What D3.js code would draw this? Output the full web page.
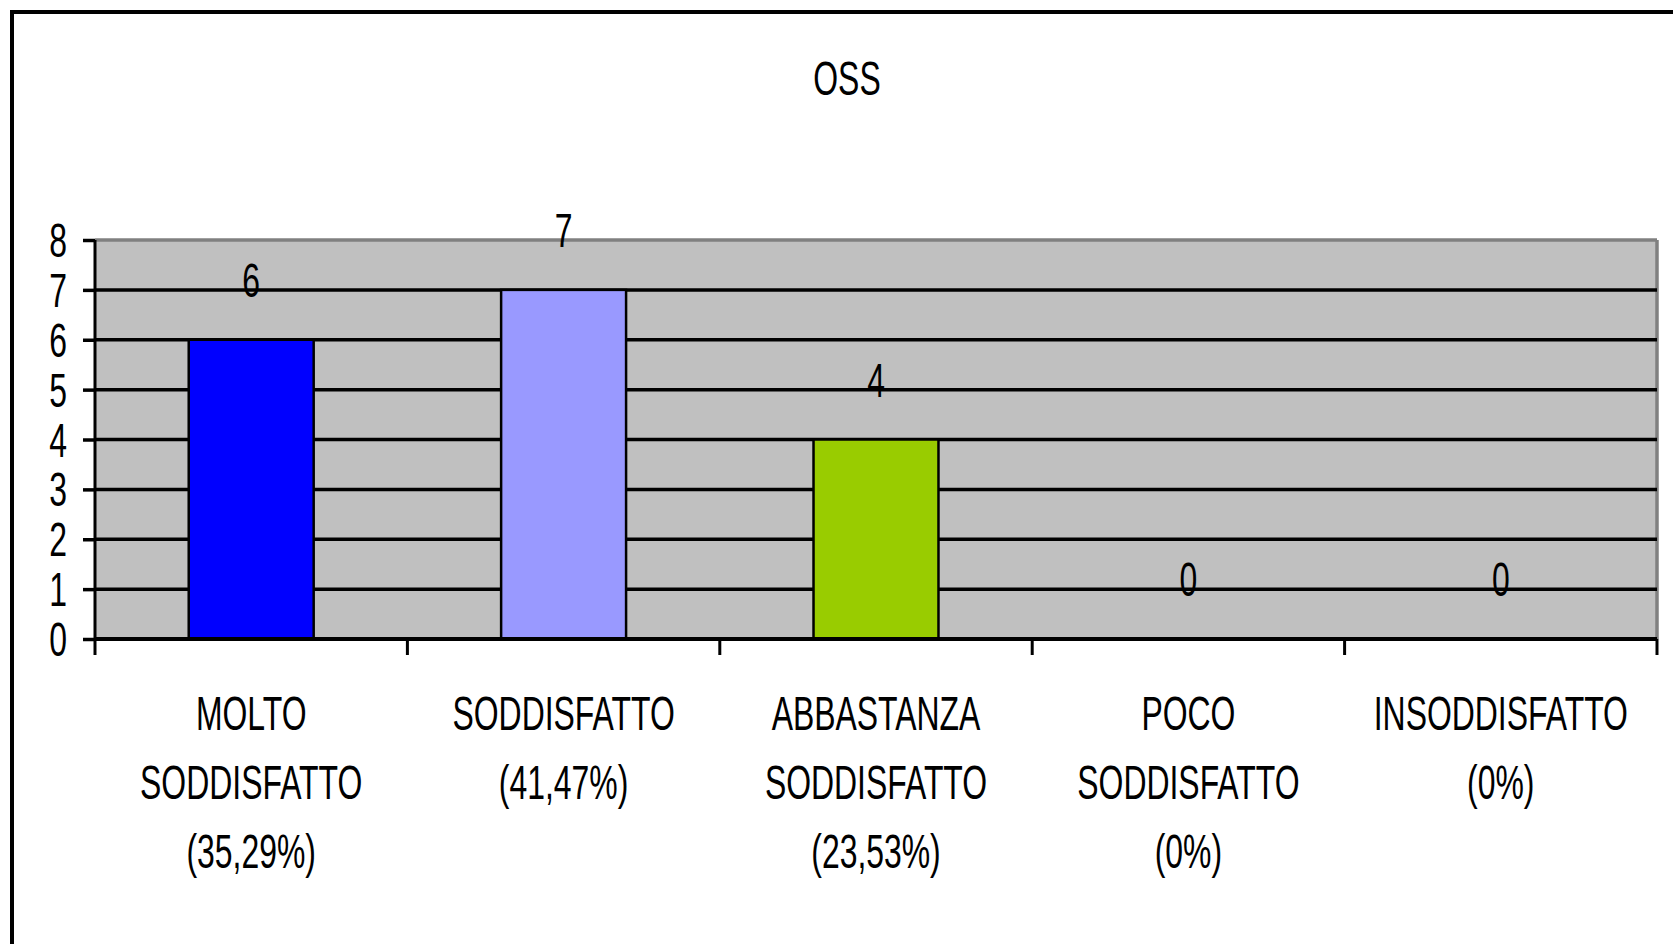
<!DOCTYPE html>
<html><head><meta charset="utf-8">
<script src="https://cdn.jsdelivr.net/npm/d3@7"></script>
<style>html,body{margin:0;padding:0;background:#fff;overflow:hidden}</style>
</head><body>
<svg id="c" width="1673" height="944"></svg>
<script>
const title = "OSS";
const categories = [
  ["MOLTO", "SODDISFATTO", "(35,29%)"],
  ["SODDISFATTO", "(41,47%)"],
  ["ABBASTANZA", "SODDISFATTO", "(23,53%)"],
  ["POCO", "SODDISFATTO", "(0%)"],
  ["INSODDISFATTO", "(0%)"]
];
const values = [6, 7, 4, 0, 0];
const barColors = ["#0000FF", "#9999FF", "#99CC00", "#993366", "#FFFFCC"];
const yTicks = [0, 1, 2, 3, 4, 5, 6, 7, 8];

const svg = d3.select("#c");
const FS = 48, SX = 0.665;
const font = "Arial, 'Liberation Sans', sans-serif";

// outer chart border
svg.append("rect").attr("x", 12).attr("y", 12).attr("width", 1720).attr("height", 1000)
  .attr("fill", "#fff").attr("stroke", "#000").attr("stroke-width", 4);

const L = 95, R = 1657, T = 240, B = 639;
const x = d3.scaleBand().domain(d3.range(categories.length)).range([L, R]).paddingInner(0.6).paddingOuter(0.3);
const xb = d3.scaleBand().domain(d3.range(categories.length)).range([L, R]);
const y = d3.scaleLinear().domain([0, 8]).range([B, T]);

// plot background
svg.append("rect").attr("x", L).attr("y", T).attr("width", R - L).attr("height", B - T).attr("fill", "#C0C0C0");
// top/right grey borders
svg.append("line").attr("x1", L).attr("x2", R).attr("y1", T).attr("y2", T).attr("stroke", "#808080").attr("stroke-width", 3.5);
svg.append("line").attr("x1", R).attr("x2", R).attr("y1", T).attr("y2", B).attr("stroke", "#808080").attr("stroke-width", 3.5);

// gridlines
svg.append("g").selectAll("line").data(yTicks.filter(d => d > 0 && d < 8)).join("line")
  .attr("x1", L).attr("x2", R).attr("y1", d => y(d)).attr("y2", d => y(d))
  .attr("stroke", "#000").attr("stroke-width", 3.5);

// bars
svg.append("g").selectAll("rect").data(values).join("rect")
  .attr("x", (d, i) => x(i)).attr("width", x.bandwidth())
  .attr("y", d => y(d)).attr("height", d => B - y(d))
  .attr("fill", (d, i) => barColors[i]).attr("stroke", "#000").attr("stroke-width", 2.5);

// y axis
const yAxis = svg.append("g").attr("transform", `translate(${L},0)`)
  .call(d3.axisLeft(y).tickValues(yTicks).tickSize(12).tickFormat(""));
yAxis.select(".domain").attr("stroke", "#000").attr("stroke-width", 3).attr("d", `M0,${T}V${B}`);
yAxis.selectAll(".tick line").attr("stroke", "#000").attr("stroke-width", 3.5);
svg.append("g").selectAll("text").data(yTicks).join("text")
  .attr("transform", d => `translate(67,${y(d) + 17}) scale(${SX},1)`)
  .attr("text-anchor", "end").attr("font-family", font).attr("font-size", FS).text(d => d);

// x axis
const bounds = d3.range(categories.length + 1).map(i => i < categories.length ? xb(i) : R);
svg.append("line").attr("x1", L).attr("x2", R).attr("y1", B).attr("y2", B).attr("stroke", "#000").attr("stroke-width", 4);
svg.append("g").selectAll("line").data(bounds).join("line")
  .attr("x1", d => d).attr("x2", d => d).attr("y1", B).attr("y2", B + 16)
  .attr("stroke", "#000").attr("stroke-width", 3);

// value labels
svg.append("g").selectAll("text").data(values).join("text")
  .attr("transform", (d, i) => `translate(${x(i) + x.bandwidth() / 2},${y(d) - 43}) scale(${SX},1)`)
  .attr("text-anchor", "middle").attr("font-family", font).attr("font-size", FS).text(d => d);

// category labels
categories.forEach((lines, i) => {
  const cx = xb(i) + xb.bandwidth() / 2;
  lines.forEach((t, j) => {
    svg.append("text").attr("transform", `translate(${cx},${730 + j * 69}) scale(${SX},1)`)
      .attr("text-anchor", "middle").attr("font-family", font).attr("font-size", FS).text(t);
  });
});

// title
svg.append("text").attr("transform", `translate(847,95) scale(${SX},1)`)
  .attr("text-anchor", "middle").attr("font-family", font).attr("font-size", FS).text(title);
</script>
</body></html>
